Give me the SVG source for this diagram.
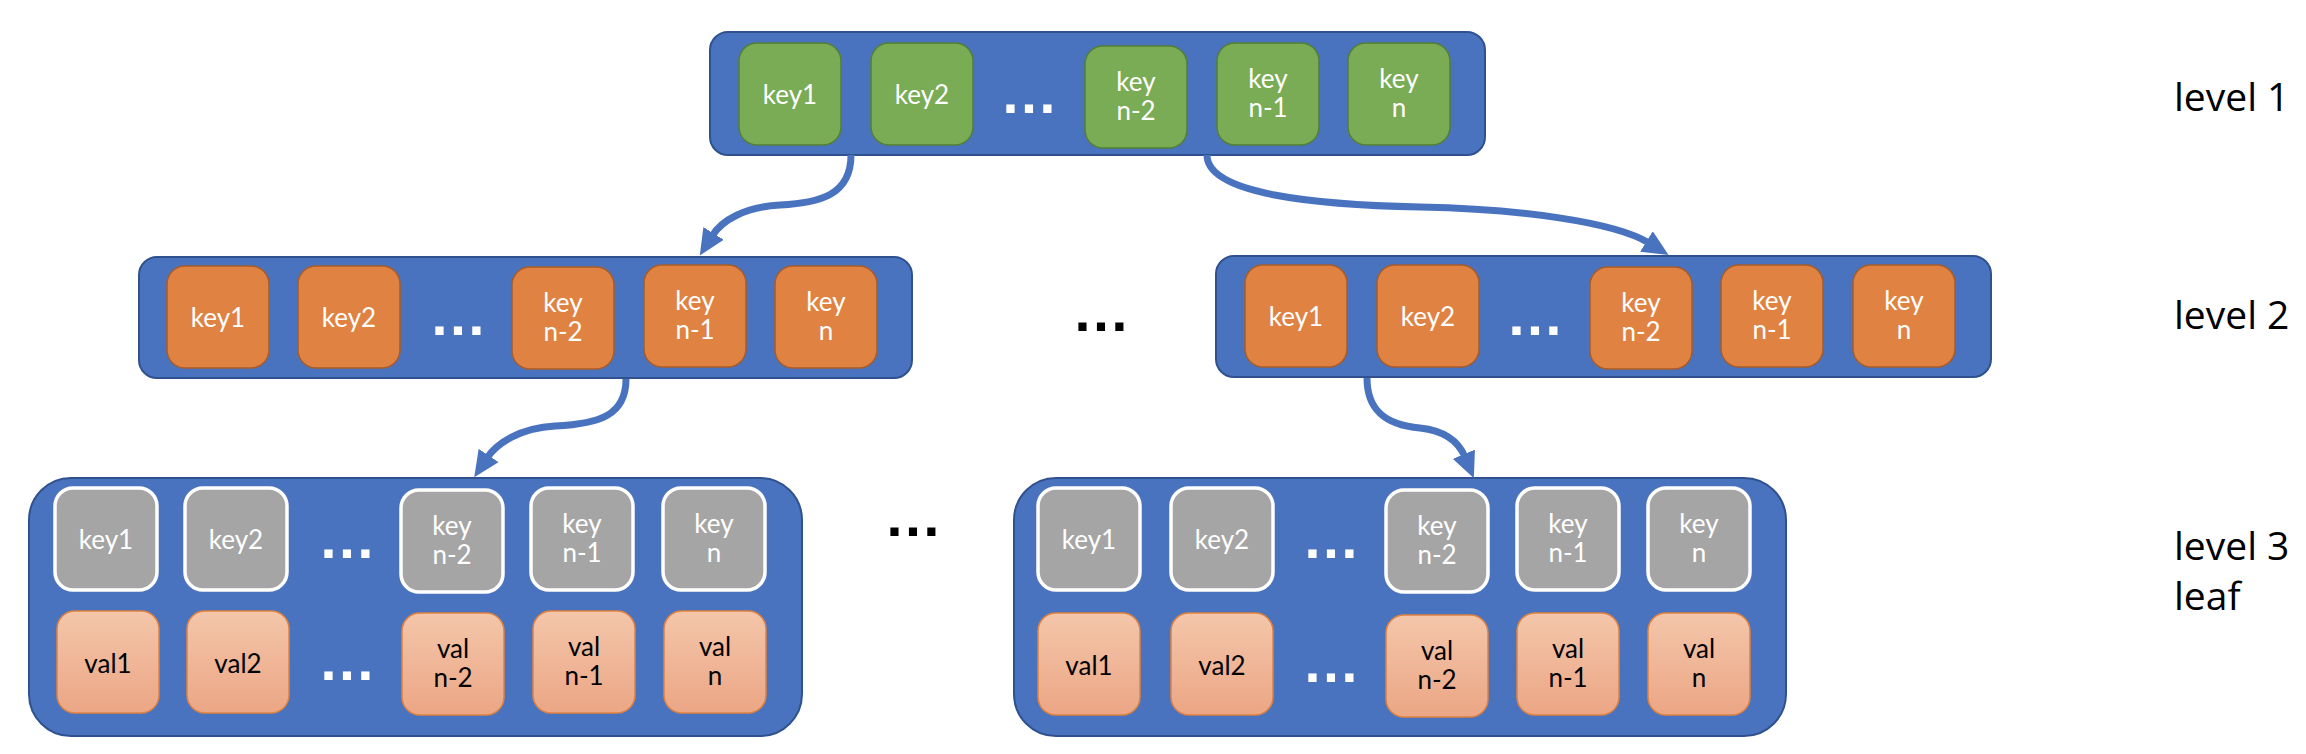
<svg xmlns="http://www.w3.org/2000/svg" width="2306" height="754" viewBox="0 0 2306 754">
<defs>
<linearGradient id="valGrad" x1="0" y1="0" x2="0" y2="1">
<stop offset="0" stop-color="#f4c6aa"/>
<stop offset="1" stop-color="#eba685"/>
</linearGradient>
<marker id="arrow" markerUnits="userSpaceOnUse" markerWidth="26" markerHeight="24" viewBox="0 0 26 24" refX="3" refY="12" orient="auto">
<path d="M0,0 L26,12 L0,24 z" fill="#4a73bf"/>
</marker>
<style>
.cont{fill:#4a73bf;stroke:#2f528f;stroke-width:2}
.green{fill:#7aab55;stroke:#537f36;stroke-width:1.5}
.orange{fill:#e08242;stroke:#a85c28;stroke-width:1.5}
.grey{fill:#a5a5a5;stroke:#ffffff;stroke-width:3.5}
.val{fill:url(#valGrad);stroke:#e0823f;stroke-width:1.5}
.kt{font-family:Lato,"Open Sans",sans-serif;font-size:26px;fill:#ffffff;text-anchor:middle}
.vt{font-family:Lato,"Open Sans",sans-serif;font-size:26px;fill:#000000;text-anchor:middle}
.dw{font-family:"Liberation Sans",Arial,sans-serif;font-weight:bold;font-size:58px;fill:#ffffff;text-anchor:middle}
.db{font-family:"Liberation Sans",Arial,sans-serif;font-weight:bold;font-size:58px;fill:#000000;text-anchor:middle}
.lbl{font-family:"Open Sans",sans-serif;font-size:39px;fill:#000000}
.conn{fill:none;stroke:#4a73bf;stroke-width:7;marker-end:url(#arrow)}
</style>
</defs>
<rect width="2306" height="754" fill="#ffffff"/>

<!-- Level 1 -->
<g id="level1">
<rect class="cont" x="710" y="32" width="775" height="123" rx="18"/>
<g id="l1-key1"><rect class="green" x="739" y="43" width="102" height="102" rx="18"/><text class="kt" x="790" y="104">key1</text></g>
<g id="l1-key2"><rect class="green" x="871" y="43" width="102" height="102" rx="18"/><text class="kt" x="922" y="104">key2</text></g>
<text class="dw" x="1029" y="113">…</text>
<g id="l1-keyn-2"><rect class="green" x="1085" y="46" width="102" height="102" rx="18"/><text class="kt" x="1136" y="91">key</text><text class="kt" x="1136" y="120">n-2</text></g>
<g id="l1-keyn-1"><rect class="green" x="1217" y="43" width="102" height="102" rx="18"/><text class="kt" x="1268" y="88">key</text><text class="kt" x="1268" y="117">n-1</text></g>
<g id="l1-keyn"><rect class="green" x="1348" y="43" width="102" height="102" rx="18"/><text class="kt" x="1399" y="88">key</text><text class="kt" x="1399" y="117">n</text></g>
</g>

<!-- Level 2 left -->
<g id="level2-left">
<rect class="cont" x="139" y="257" width="773" height="121" rx="18"/>
<g id="l2a-key1"><rect class="orange" x="167" y="266" width="102" height="102" rx="18"/><text class="kt" x="218" y="327">key1</text></g>
<g id="l2a-key2"><rect class="orange" x="298" y="266" width="102" height="102" rx="18"/><text class="kt" x="349" y="327">key2</text></g>
<text class="dw" x="458" y="335">…</text>
<g id="l2a-keyn-2"><rect class="orange" x="512" y="267" width="102" height="102" rx="18"/><text class="kt" x="563" y="312">key</text><text class="kt" x="563" y="341">n-2</text></g>
<g id="l2a-keyn-1"><rect class="orange" x="644" y="265" width="102" height="102" rx="18"/><text class="kt" x="695" y="310">key</text><text class="kt" x="695" y="339">n-1</text></g>
<g id="l2a-keyn"><rect class="orange" x="775" y="266" width="102" height="102" rx="18"/><text class="kt" x="826" y="311">key</text><text class="kt" x="826" y="340">n</text></g>
</g>

<text id="dots-l2" class="db" x="1101" y="331">…</text>

<!-- Level 2 right -->
<g id="level2-right">
<rect class="cont" x="1216" y="256" width="775" height="121" rx="18"/>
<g id="l2b-key1"><rect class="orange" x="1245" y="265" width="102" height="102" rx="18"/><text class="kt" x="1296" y="326">key1</text></g>
<g id="l2b-key2"><rect class="orange" x="1377" y="265" width="102" height="102" rx="18"/><text class="kt" x="1428" y="326">key2</text></g>
<text class="dw" x="1535" y="335">…</text>
<g id="l2b-keyn-2"><rect class="orange" x="1590" y="267" width="102" height="102" rx="18"/><text class="kt" x="1641" y="312">key</text><text class="kt" x="1641" y="341">n-2</text></g>
<g id="l2b-keyn-1"><rect class="orange" x="1721" y="265" width="102" height="102" rx="18"/><text class="kt" x="1772" y="310">key</text><text class="kt" x="1772" y="339">n-1</text></g>
<g id="l2b-keyn"><rect class="orange" x="1853" y="265" width="102" height="102" rx="18"/><text class="kt" x="1904" y="310">key</text><text class="kt" x="1904" y="339">n</text></g>
</g>

<!-- Level 3 left -->
<g id="level3-left">
<rect class="cont" x="29" y="478" width="773" height="258" rx="42"/>
<g id="l3a-key1"><rect class="grey" x="55" y="488" width="102" height="102" rx="18"/><text class="kt" x="106" y="549">key1</text></g>
<g id="l3a-key2"><rect class="grey" x="185" y="488" width="102" height="102" rx="18"/><text class="kt" x="236" y="549">key2</text></g>
<text class="dw" x="347" y="558">…</text>
<g id="l3a-keyn-2"><rect class="grey" x="401" y="490" width="102" height="102" rx="18"/><text class="kt" x="452" y="535">key</text><text class="kt" x="452" y="564">n-2</text></g>
<g id="l3a-keyn-1"><rect class="grey" x="531" y="488" width="102" height="102" rx="18"/><text class="kt" x="582" y="533">key</text><text class="kt" x="582" y="562">n-1</text></g>
<g id="l3a-keyn"><rect class="grey" x="663" y="488" width="102" height="102" rx="18"/><text class="kt" x="714" y="533">key</text><text class="kt" x="714" y="562">n</text></g>
<g id="l3a-val1"><rect class="val" x="57" y="611" width="102" height="102" rx="18"/><text class="vt" x="108" y="673">val1</text></g>
<g id="l3a-val2"><rect class="val" x="187" y="611" width="102" height="102" rx="18"/><text class="vt" x="238" y="673">val2</text></g>
<text class="dw" x="347" y="680">…</text>
<g id="l3a-valn-2"><rect class="val" x="402" y="613" width="102" height="102" rx="18"/><text class="vt" x="453" y="658">val</text><text class="vt" x="453" y="687">n-2</text></g>
<g id="l3a-valn-1"><rect class="val" x="533" y="611" width="102" height="102" rx="18"/><text class="vt" x="584" y="656">val</text><text class="vt" x="584" y="685">n-1</text></g>
<g id="l3a-valn"><rect class="val" x="664" y="611" width="102" height="102" rx="18"/><text class="vt" x="715" y="656">val</text><text class="vt" x="715" y="685">n</text></g>
</g>

<text id="dots-l3" class="db" x="913" y="536">…</text>

<!-- Level 3 right -->
<g id="level3-right">
<rect class="cont" x="1014" y="478" width="772" height="258" rx="42"/>
<g id="l3b-key1"><rect class="grey" x="1038" y="488" width="102" height="102" rx="18"/><text class="kt" x="1089" y="549">key1</text></g>
<g id="l3b-key2"><rect class="grey" x="1171" y="488" width="102" height="102" rx="18"/><text class="kt" x="1222" y="549">key2</text></g>
<text class="dw" x="1331" y="558">…</text>
<g id="l3b-keyn-2"><rect class="grey" x="1386" y="490" width="102" height="102" rx="18"/><text class="kt" x="1437" y="535">key</text><text class="kt" x="1437" y="564">n-2</text></g>
<g id="l3b-keyn-1"><rect class="grey" x="1517" y="488" width="102" height="102" rx="18"/><text class="kt" x="1568" y="533">key</text><text class="kt" x="1568" y="562">n-1</text></g>
<g id="l3b-keyn"><rect class="grey" x="1648" y="488" width="102" height="102" rx="18"/><text class="kt" x="1699" y="533">key</text><text class="kt" x="1699" y="562">n</text></g>
<g id="l3b-val1"><rect class="val" x="1038" y="613" width="102" height="102" rx="18"/><text class="vt" x="1089" y="675">val1</text></g>
<g id="l3b-val2"><rect class="val" x="1171" y="613" width="102" height="102" rx="18"/><text class="vt" x="1222" y="675">val2</text></g>
<text class="dw" x="1331" y="682">…</text>
<g id="l3b-valn-2"><rect class="val" x="1386" y="615" width="102" height="102" rx="18"/><text class="vt" x="1437" y="660">val</text><text class="vt" x="1437" y="689">n-2</text></g>
<g id="l3b-valn-1"><rect class="val" x="1517" y="613" width="102" height="102" rx="18"/><text class="vt" x="1568" y="658">val</text><text class="vt" x="1568" y="687">n-1</text></g>
<g id="l3b-valn"><rect class="val" x="1648" y="613" width="102" height="102" rx="18"/><text class="vt" x="1699" y="658">val</text><text class="vt" x="1699" y="687">n</text></g>
</g>

<!-- Labels -->
<g id="labels">
<text class="lbl" x="2174" y="111">level 1</text>
<text class="lbl" x="2174" y="329">level 2</text>
<text class="lbl" x="2174" y="560">level 3</text>
<text class="lbl" x="2174" y="610">leaf</text>
</g>

<!-- Connectors -->
<g id="connectors">
<path class="conn" d="M 851 155 C 851 195, 820 203, 780 205 C 745 207, 722 220, 712 236"/>
<path class="conn" d="M 1207 155 C 1207 195, 1320 205, 1420 207 C 1520 209, 1615 222, 1649 243"/>
<path class="conn" d="M 626 379 C 626 415, 600 424, 555 426 C 520 428, 497 443, 487 458"/>
<path class="conn" d="M 1367 378 C 1367 410, 1385 425, 1420 428 C 1448 431, 1460 445, 1465 457"/>
</g>
</svg>
